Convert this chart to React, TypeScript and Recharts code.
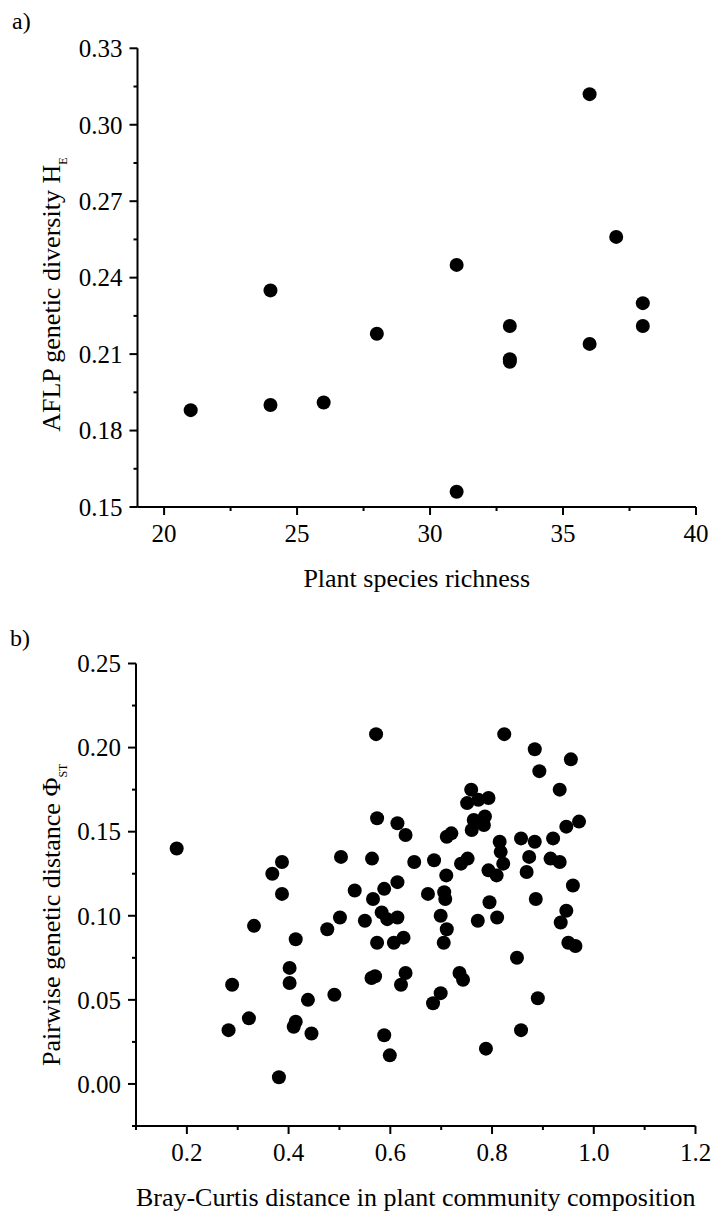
import React from "react"
import { ScatterChart, Scatter, XAxis, YAxis, Label } from "recharts"

// panel a: plant species richness vs AFLP diversity
const richness = [21, 24, 24, 26, 28, 31, 31, 33, 33, 33, 36, 36, 37, 38, 38]
const diversityHE = [0.188, 0.235, 0.19, 0.191, 0.218, 0.245, 0.156, 0.221, 0.208, 0.207, 0.312, 0.214, 0.256, 0.23, 0.221]

// panel b: Bray-Curtis distance vs pairwise PhiST
const brayCurtis = [
  0.18, 0.572, 0.824, 0.884, 0.955, 0.893, 0.933, 0.759, 0.751, 0.773,
  0.793, 0.764, 0.786, 0.76, 0.784, 0.574, 0.614, 0.63, 0.711, 0.72,
  0.503, 0.564, 0.647, 0.686, 0.739, 0.752, 0.71, 0.793, 0.809, 0.815,
  0.817, 0.822, 0.857, 0.884, 0.92, 0.946, 0.971, 0.873, 0.915, 0.933,
  0.868, 0.959, 0.886, 0.946, 0.935, 0.795, 0.81, 0.772, 0.614, 0.588,
  0.566, 0.53, 0.674, 0.706, 0.708, 0.368, 0.387, 0.387, 0.332, 0.501,
  0.476, 0.414, 0.55, 0.583, 0.594, 0.614, 0.574, 0.607, 0.626, 0.699,
  0.711, 0.705, 0.95, 0.964, 0.849, 0.89, 0.857, 0.788, 0.736, 0.743,
  0.699, 0.684, 0.63, 0.621, 0.563, 0.57, 0.588, 0.599, 0.49, 0.438,
  0.445, 0.414, 0.41, 0.402, 0.402, 0.289, 0.322, 0.282, 0.381,
]
const phiST = [
  0.14, 0.208, 0.208, 0.199, 0.193, 0.186, 0.175, 0.175, 0.167, 0.169,
  0.17, 0.157, 0.159, 0.151, 0.154, 0.158, 0.155, 0.148, 0.147, 0.149,
  0.135, 0.134, 0.132, 0.133, 0.131, 0.134, 0.124, 0.127, 0.124, 0.144,
  0.138, 0.131, 0.146, 0.144, 0.146, 0.153, 0.156, 0.135, 0.134, 0.132,
  0.126, 0.118, 0.11, 0.103, 0.096, 0.108, 0.099, 0.097, 0.12, 0.116,
  0.11, 0.115, 0.113, 0.114, 0.11, 0.125, 0.132, 0.113, 0.094, 0.099,
  0.092, 0.086, 0.097, 0.102, 0.098, 0.099, 0.084, 0.084, 0.087, 0.1,
  0.092, 0.084, 0.084, 0.082, 0.075, 0.051, 0.032, 0.021, 0.066, 0.062,
  0.054, 0.048, 0.066, 0.059, 0.063, 0.064, 0.029, 0.017, 0.053, 0.05,
  0.03, 0.037, 0.034, 0.069, 0.06, 0.059, 0.039, 0.032, 0.004,
]

const xMajorA = [20, 25, 30, 35, 40]
const xMinorA = [22.5, 27.5, 32.5, 37.5]
const yMajorA = [0.15, 0.18, 0.21, 0.24, 0.27, 0.3, 0.33]
const yMinorA = [0.165, 0.195, 0.225, 0.255, 0.285, 0.315]

const xMajorB = [0.2, 0.4, 0.6, 0.8, 1.0, 1.2]
const xMinorB = [0.1, 0.3, 0.5, 0.7, 0.9, 1.1]
const yMajorB = [0, 0.05, 0.1, 0.15, 0.2, 0.25]
const yMinorB = [-0.025, 0.025, 0.075, 0.125, 0.175, 0.225]

const dataA = richness.map((x, i) => ({ x, y: diversityHE[i] }))
const dataB = brayCurtis.map((x, i) => ({ x, y: phiST[i] }))

const FONT = "'Liberation Serif', 'Times New Roman', serif"

const dot = (props: any) => <circle cx={props.cx} cy={props.cy} r={7} fill="#000" />

const xTick = (majors: number[], digits: number) => (props: any) => {
  const { x, y, payload } = props
  const major = majors.includes(payload.value)
  return (
    <g>
      <line x1={x} y1={y} x2={x} y2={y + (major ? 8 : 4)} stroke="#000" strokeWidth={2} />
      {major && (
        <text x={x} y={y + 35} textAnchor="middle" fontSize={25} fontFamily={FONT} fill="#000">
          {payload.value.toFixed(digits)}
        </text>
      )}
    </g>
  )
}

const yTick = (majors: number[]) => (props: any) => {
  const { x, y, payload } = props
  const major = majors.includes(payload.value)
  return (
    <g>
      <line x1={x} y1={y} x2={x - (major ? 8 : 4)} y2={y} stroke="#000" strokeWidth={2} />
      {major && (
        <text x={x - 15} y={y} dy="0.35em" textAnchor="end" fontSize={25} fontFamily={FONT} fill="#000">
          {payload.value.toFixed(2)}
        </text>
      )}
    </g>
  )
}

const xTitle = (text: string) => (props: any) => {
  const vb = props.viewBox
  return (
    <text x={vb.x + vb.width / 2} y={vb.y + 80} textAnchor="middle" fontSize={26} fontFamily={FONT} fill="#000">
      {text}
    </text>
  )
}

const yTitle = (text: string, sub: string, shift: number) => (props: any) => {
  const vb = props.viewBox
  const cy = vb.y + vb.height / 2 + shift
  return (
    <text transform={`translate(59.5, ${cy}) rotate(-90)`} textAnchor="middle" fontSize={26} fontFamily={FONT} fill="#000">
      {text}
      <tspan fontSize={12} dy={7}>{sub}</tspan>
    </text>
  )
}

const axisStyle = { stroke: "#000", strokeWidth: 2 }

export default function App() {
  return (
    <div style={{ position: "absolute", left: 0, top: 0, width: 718, height: 1212, background: "#fff" }}>
      <ScatterChart width={718} height={605} margin={{ top: 48.3, right: 22, bottom: 0, left: 0 }}>
        <XAxis
          type="number"
          dataKey="x"
          domain={[19, 40]}
          ticks={[...xMajorA, ...xMinorA].sort((a, b) => a - b)}
          interval={0}
          height={98}
          tickSize={0}
          tickMargin={0}
          tickLine={false}
          axisLine={axisStyle}
          tick={xTick(xMajorA, 0)}
        >
          <Label content={xTitle("Plant species richness")} />
        </XAxis>
        <YAxis
          type="number"
          dataKey="y"
          domain={[0.15, 0.33]}
          ticks={[...yMajorA, ...yMinorA].sort((a, b) => a - b)}
          interval={0}
          width={137.5}
          tickSize={0}
          tickMargin={0}
          tickLine={false}
          axisLine={axisStyle}
          tick={yTick(yMajorA)}
        >
          <Label content={yTitle("AFLP genetic diversity H", "E", 17)} />
        </YAxis>
        <Scatter data={dataA} shape={dot} isAnimationActive={false} />
        <text x={12} y={29} fontSize={24} fontFamily={FONT} fill="#000">a)</text>
      </ScatterChart>
      <ScatterChart width={718} height={607} margin={{ top: 58.5, right: 22.5, bottom: 0, left: 0 }}>
        <XAxis
          type="number"
          dataKey="x"
          domain={[0.1, 1.2]}
          ticks={[...xMajorB, ...xMinorB].sort((a, b) => a - b)}
          interval={0}
          height={86}
          tickSize={0}
          tickMargin={0}
          tickLine={false}
          axisLine={axisStyle}
          tick={xTick(xMajorB, 1)}
        >
          <Label content={xTitle("Bray-Curtis distance in plant community composition")} />
        </XAxis>
        <YAxis
          type="number"
          dataKey="y"
          domain={[-0.025, 0.25]}
          ticks={[...yMajorB, ...yMinorB].sort((a, b) => a - b)}
          interval={0}
          width={136}
          tickSize={0}
          tickMargin={0}
          tickLine={false}
          axisLine={axisStyle}
          tick={yTick(yMajorB)}
        >
          <Label content={yTitle("Pairwise genetic distance Φ", "ST", 20)} />
        </YAxis>
        <Scatter data={dataB} shape={dot} isAnimationActive={false} />
        <text x={10} y={41} fontSize={24} fontFamily={FONT} fill="#000">b)</text>
      </ScatterChart>
    </div>
  )
}
